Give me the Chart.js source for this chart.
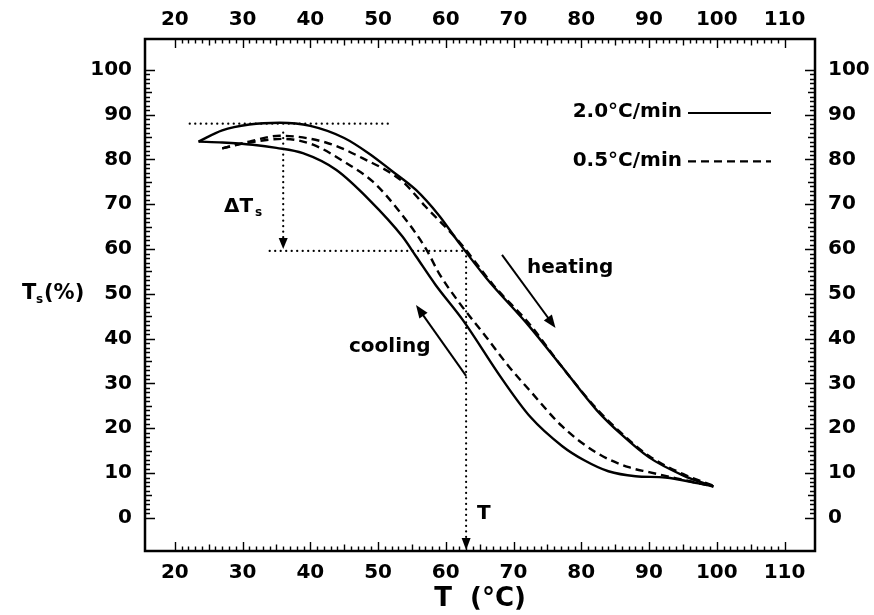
<!DOCTYPE html>
<html>
<head>
<meta charset="utf-8">
<script src="https://cdn.jsdelivr.net/npm/chart.js@4/dist/chart.umd.min.js"></script>
<style>
  html, body { margin: 0; padding: 0; background: #fff; }
  #wrap { width: 874px; height: 615px; position: relative; }
</style>
</head>
<body>
<div id="wrap"><canvas id="chart"></canvas></div>
<script>
// tick labels
const xTicks = [20, 30, 40, 50, 60, 70, 80, 90, 100, 110];
const yTicks = [0, 10, 20, 30, 40, 50, 60, 70, 80, 90, 100];

// 2.0 C/min, heating (upper solid)
const heatFastT  = [23.5, 27, 31, 35.5, 40, 45, 48.7, 52, 55.6, 59, 62, 66, 72.3, 77, 82.3, 86, 90, 95, 99.5];
const heatFastTs = [84, 86.5, 87.8, 88.2, 87.5, 84.8, 81.3, 77.5, 73.2, 67.5, 61.3, 53.5, 42.8, 34, 24, 18.5, 13.5, 9.5, 7];
// 2.0 C/min, cooling (lower solid)
const coolFastT  = [23.5, 27, 31.5, 35, 38.9, 43.8, 48.7, 53.6, 55.6, 58.5, 62.5, 68.4, 72.5, 77.2, 80.5, 84, 88, 92.4, 97.3, 99.5];
const coolFastTs = [84, 83.8, 83.3, 82.6, 81.4, 77.7, 71, 62.8, 58.4, 52, 44.2, 30.8, 22.5, 16, 12.8, 10.4, 9.3, 9.0, 7.7, 7];
// 0.5 C/min, heating (dashed, close to upper solid)
const heatSlowT  = [27, 31, 35.5, 42.3, 47.7, 53.6, 57, 62, 67, 72.5, 77, 82.3, 86, 90, 95, 99.5];
const heatSlowTs = [82.5, 84, 85.3, 83.8, 80.3, 75.1, 69.5, 61.6, 52, 43, 34, 24.3, 18.8, 13.8, 9.8, 7.2];
// 0.5 C/min, cooling (dashed, middle)
const coolSlowT  = [27, 31, 36, 40.4, 45.3, 49.2, 53.1, 57.1, 59, 62, 65.9, 69.3, 72.3, 77.2, 82.3, 87, 90, 95, 99.5];
const coolSlowTs = [82.5, 83.8, 84.6, 83.3, 79.2, 75.1, 68.5, 60, 54.6, 48, 40.5, 33.8, 28.6, 20.4, 14.5, 11.3, 10.2, 8.5, 7];

// dotted guide lines (data units)
const xMin = 15.6, xMax = 114.5, yMin = -7.4, yMax = 106.9;
const guideTopT = [22.2, 51.7],  guideTopTs = [88, 88];
const guideDeltaT = [36, 36],    guideDeltaTs = [86, 61.5];
const guideMidT = [34, 63],      guideMidTs = [59.6, 59.6];
const guideTempT = [63, 63],     guideTempTs = [59.6, yMin + 1.5];

// heating / cooling arrows: [fromT, fromTs, toT, toTs]
const heatArrow = [68.3, 58.7, 76.2, 42.4];
const coolArrow = [63, 31.7, 55.6, 47.5];

const pts = (xs, ys) => xs.map((v, i) => ({ x: v, y: ys[i] }));
const font = { family: 'DejaVu Sans', weight: 'bold', size: 20 };

function curve(xs, ys, dash) {
  return {
    data: pts(xs, ys), showLine: true, pointRadius: 0,
    borderColor: '#000', borderWidth: 2.4, borderDash: dash || [],
    cubicInterpolationMode: 'monotone', fill: false
  };
}
function dotted(xs, ys) {
  return {
    data: pts(xs, ys), showLine: true, pointRadius: 0,
    borderColor: '#000', borderWidth: 2.2, borderDash: [0.1, 5.4],
    borderCapStyle: 'round', fill: false
  };
}

function arrowHead(ctx, tx, ty, fx, fy, len, half) {
  const ang = Math.atan2(ty - fy, tx - fx);
  ctx.beginPath();
  ctx.moveTo(tx, ty);
  ctx.lineTo(tx - len * Math.cos(ang) + half * Math.sin(ang), ty - len * Math.sin(ang) - half * Math.cos(ang));
  ctx.lineTo(tx - len * Math.cos(ang) - half * Math.sin(ang), ty - len * Math.sin(ang) + half * Math.cos(ang));
  ctx.closePath();
  ctx.fill();
}

const decor = {
  id: 'decor',
  afterDatasetsDraw(chart) {
    const { ctx, chartArea: a, scales: { x, y } } = chart;
    ctx.save();
    ctx.strokeStyle = '#000';
    ctx.fillStyle = '#000';

    // frame
    ctx.lineWidth = 2.5;
    ctx.strokeRect(a.left, a.top, a.right - a.left, a.bottom - a.top);

    // inward ticks
    ctx.lineWidth = 1.4;
    ctx.beginPath();
    for (let v = xTicks[0]; v <= xTicks[xTicks.length - 1]; v++) {
      const len = v % 10 === 0 ? 9 : (v % 5 === 0 ? 6.5 : 4.5);
      const px = Math.round(x.getPixelForValue(v)) + 0.5;
      ctx.moveTo(px, a.bottom); ctx.lineTo(px, a.bottom - len);
      ctx.moveTo(px, a.top); ctx.lineTo(px, a.top + len);
    }
    for (let v = yTicks[0]; v <= yTicks[yTicks.length - 1]; v++) {
      const len = v % 10 === 0 ? 10 : (v % 5 === 0 ? 7 : 5);
      const py = Math.round(y.getPixelForValue(v)) + 0.5;
      ctx.moveTo(a.left, py); ctx.lineTo(a.left + len, py);
      ctx.moveTo(a.right, py); ctx.lineTo(a.right - len, py);
    }
    ctx.stroke();

    // arrowheads on dotted guides
    arrowHead(ctx, x.getPixelForValue(36), y.getPixelForValue(59.6) - 2,
              x.getPixelForValue(36), y.getPixelForValue(80), 11, 4.5);
    arrowHead(ctx, x.getPixelForValue(63), a.bottom - 1,
              x.getPixelForValue(63), y.getPixelForValue(20), 12, 4.5);

    // heating / cooling arrows
    ctx.lineWidth = 2;
    [heatArrow, coolArrow].forEach(ar => {
      const fx = x.getPixelForValue(ar[0]), fy = y.getPixelForValue(ar[1]);
      const tx = x.getPixelForValue(ar[2]), ty = y.getPixelForValue(ar[3]);
      const ang = Math.atan2(ty - fy, tx - fx);
      ctx.beginPath();
      ctx.moveTo(fx, fy);
      ctx.lineTo(tx - 8 * Math.cos(ang), ty - 8 * Math.sin(ang));
      ctx.stroke();
      arrowHead(ctx, tx, ty, fx, fy, 13, 5);
    });

    // texts
    ctx.textBaseline = 'middle';
    ctx.textAlign = 'left';
    ctx.font = 'bold 20px "DejaVu Sans"';
    ctx.fillText('heating', 527, y.getPixelForValue(55.8));
    ctx.fillText('cooling', 349, y.getPixelForValue(38.2));
    ctx.fillText('T', x.getPixelForValue(64.6), y.getPixelForValue(1));

    // delta T_s
    const dy = y.getPixelForValue(69.5);
    ctx.fillText('\u0394T', 224, dy);
    ctx.font = 'bold 12px "DejaVu Sans"';
    ctx.fillText('s', 255, dy + 6);

    // y axis title T_s(%)
    const ty50 = y.getPixelForValue(50);
    ctx.font = 'bold 21px "DejaVu Sans"';
    ctx.fillText('T', 22, ty50);
    ctx.font = 'bold 12px "DejaVu Sans"';
    ctx.fillText('s', 36, ty50 + 6);
    ctx.font = 'bold 21px "DejaVu Sans"';
    ctx.fillText('(%)', 44, ty50);

    // legend
    ctx.font = 'bold 20px "DejaVu Sans"';
    ctx.textAlign = 'right';
    const l1 = y.getPixelForValue(90.6), l2 = y.getPixelForValue(79.8);
    ctx.fillText('2.0\u00B0C/min', 682, l1);
    ctx.fillText('0.5\u00B0C/min', 682, l2);
    ctx.lineWidth = 2.2;
    ctx.beginPath(); ctx.moveTo(688, l1 + 1); ctx.lineTo(771, l1 + 1); ctx.stroke();
    ctx.setLineDash([8, 5]);
    ctx.beginPath(); ctx.moveTo(688, l2 + 1); ctx.lineTo(771, l2 + 1); ctx.stroke();
    ctx.restore();
  }
};

function setTicks(vals) {
  return s => { s.ticks = vals.map(v => ({ value: v })); };
}

new Chart(document.getElementById('chart'), {
  type: 'scatter',
  data: {
    datasets: [
      curve(heatFastT, heatFastTs),
      curve(coolFastT, coolFastTs),
      curve(heatSlowT, heatSlowTs, [8, 5]),
      curve(coolSlowT, coolSlowTs, [8, 5]),
      dotted(guideTopT, guideTopTs),
      dotted(guideDeltaT, guideDeltaTs),
      dotted(guideMidT, guideMidTs),
      dotted(guideTempT, guideTempTs)
    ]
  },
  options: {
    responsive: true,
    maintainAspectRatio: false,
    animation: false,
    layout: { padding: 0 },
    plugins: { legend: { display: false }, tooltip: { enabled: false } },
    scales: {
      x: {
        type: 'linear', position: 'bottom', min: xMin, max: xMax,
        afterBuildTicks: setTicks(xTicks),
        afterFit: s => { s.height = 64; },
        grid: { display: false }, border: { display: false },
        ticks: { font: font, color: '#000', padding: 2, maxRotation: 0 },
        title: { display: true, text: 'T  (\u00B0C)', color: '#000',
                 font: { family: 'DejaVu Sans', weight: 'bold', size: 26 }, padding: { top: 0, bottom: 0 } }
      },
      x2: {
        type: 'linear', position: 'top', min: xMin, max: xMax,
        afterBuildTicks: setTicks(xTicks),
        afterFit: s => { s.height = 39; },
        grid: { display: false }, border: { display: false },
        ticks: { font: font, color: '#000', padding: -1, maxRotation: 0 }
      },
      y: {
        type: 'linear', position: 'left', min: yMin, max: yMax,
        afterBuildTicks: setTicks(yTicks),
        afterFit: s => { s.width = 145; },
        grid: { display: false }, border: { display: false },
        ticks: { font: font, color: '#000', padding: 5 }
      },
      y2: {
        type: 'linear', position: 'right', min: yMin, max: yMax,
        afterBuildTicks: setTicks(yTicks),
        afterFit: s => { s.width = 59; },
        grid: { display: false }, border: { display: false },
        ticks: { font: font, color: '#000', padding: 5 }
      }
    }
  },
  plugins: [decor]
});
</script>
</body>
</html>
